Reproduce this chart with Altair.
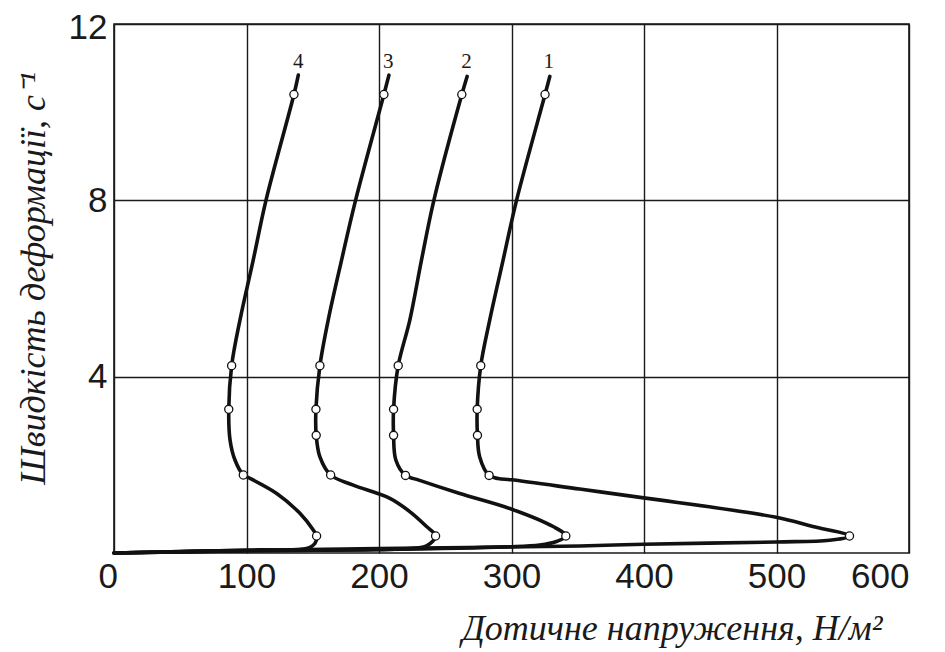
import altair as alt
import pandas as pd

# ---- data ----
# curve paths (origin -> baseline -> nose -> up to the top end)
c1_x = [0, 100, 200, 351.5, 399.8, 499.8, 540, 555.1, 527.4, 499.8, 399.8, 351.5, 300, 289.9, 283.1, 276.0, 274.3, 274.1, 276.8, 283.6, 293.7, 303.8, 325.3, 328.9]
c1_y = [0, 0.06, 0.10, 0.16, 0.20, 0.25, 0.29, 0.386, 0.60, 0.81, 1.25, 1.45, 1.66, 1.69, 1.76, 2.18, 2.67, 3.26, 4.25, 5.29, 6.65, 8.0, 10.40, 10.81]

c2_x = [0, 100, 200, 296, 321.3, 333.9, 341, 331.4, 298.7, 261, 228.4, 220, 212.7, 211, 211, 214.5, 223.3, 232.1, 241.4, 262.5, 266.5]
c2_y = [0, 0.05, 0.08, 0.14, 0.18, 0.26, 0.386, 0.60, 1.01, 1.35, 1.67, 1.76, 2.11, 2.67, 3.26, 4.25, 5.29, 6.65, 8.0, 10.40, 10.81]

c3_x = [0, 100, 190, 215, 235.9, 242.7, 235.9, 223.2, 208.2, 180.6, 163.5, 155.4, 152.6, 152.4, 155.4, 161.7, 171.8, 182.3, 203.7, 207.5]
c3_y = [0, 0.05, 0.07, 0.09, 0.16, 0.386, 0.60, 0.94, 1.24, 1.54, 1.77, 2.18, 2.67, 3.26, 4.25, 5.29, 6.65, 8.0, 10.40, 10.84]

c4_x = [0, 60, 110, 145.4, 151.7, 152.9, 150.4, 140.3, 122.8, 100.2, 97.6, 91.3, 87.6, 86.6, 88.8, 95.1, 105.1, 114.7, 135.8, 139.1]
c4_y = [0, 0.04, 0.07, 0.10, 0.22, 0.386, 0.52, 0.90, 1.35, 1.73, 1.77, 2.11, 2.56, 3.26, 4.25, 5.29, 6.65, 8.0, 10.40, 10.84]

# open-circle markers
m1_x = [555.1, 283.1, 274.3, 274.1, 276.8, 325.3]
m1_y = [0.386, 1.76, 2.67, 3.26, 4.25, 10.40]
m2_x = [341, 220, 211, 211, 214.5, 262.5]
m2_y = [0.386, 1.76, 2.67, 3.26, 4.25, 10.40]
m3_x = [242.7, 163.5, 152.6, 152.4, 155.4, 203.7]
m3_y = [0.386, 1.77, 2.67, 3.26, 4.25, 10.40]
m4_x = [152.9, 97.6, 86.6, 88.8, 135.8]
m4_y = [0.386, 1.77, 3.26, 4.25, 10.40]

# curve number labels
lab_text = ["1", "2", "3", "4"]
lab_x = [328.1, 266.0, 207.0, 139.1]
lab_y = [11.0, 11.0, 11.0, 11.0]

x_ticks = [0, 100, 200, 300, 400, 500, 600]
y_ticks = [4, 8, 12]

x_title = "Дотичне напруження, Н/м²"
y_title = "Швидкість деформації, с⁻¹"

# ---- tables ----
rows = []
for name, xs, ys in [("1", c1_x, c1_y), ("2", c2_x, c2_y), ("3", c3_x, c3_y), ("4", c4_x, c4_y)]:
    for i, (a, b) in enumerate(zip(xs, ys)):
        rows.append({"curve": name, "order": i, "x": a, "y": b})
lines_df = pd.DataFrame(rows)

mrows = []
for name, xs, ys in [("1", m1_x, m1_y), ("2", m2_x, m2_y), ("3", m3_x, m3_y), ("4", m4_x, m4_y)]:
    for a, b in zip(xs, ys):
        mrows.append({"curve": name, "x": a, "y": b})
markers_df = pd.DataFrame(mrows)

labels_df = pd.DataFrame({"t": lab_text, "x": lab_x, "y": lab_y})

xscale = alt.Scale(domain=[0, 600], nice=False, zero=False)
yscale = alt.Scale(domain=[0, 12], nice=False, zero=False)

xaxis = alt.Axis(
    values=x_ticks, grid=True, gridColor="#1a1a1a", gridWidth=1.4, gridOpacity=1,
    ticks=False, domain=False, labelFont="Liberation Sans", labelFontSize=35,
    labelColor="#1a1a1a", labelPadding=6,
    labelOffset={"condition": {"test": "datum.value == 0", "value": -16}, "value": 0},
    title=x_title, titleFont="Liberation Serif", titleFontStyle="italic",
    titleFontWeight="normal", titleFontSize=36, titleColor="#1a1a1a",
    titleAlign="right", titleAnchor="start", titleX=768, titleY=86,
    titleBaseline="alphabetic",
)
yaxis = alt.Axis(
    values=y_ticks, grid=True, gridColor="#1a1a1a", gridWidth=1.4, gridOpacity=1,
    ticks=False, domain=False, labelFont="Liberation Sans", labelFontSize=35,
    labelColor="#1a1a1a", labelPadding=7,
    labelOffset={"condition": {"test": "datum.value == 12", "value": 3}, "value": 0},
    title=y_title, titleFont="Liberation Serif", titleFontStyle="italic",
    titleFontWeight="normal", titleFontSize=36, titleColor="#1a1a1a",
    titleAngle=270, titleAlign="center", titleBaseline="alphabetic",
    titleX=-70, titleY=254,
)

base_x = alt.X("x:Q", scale=xscale, axis=xaxis)
base_y = alt.Y("y:Q", scale=yscale, axis=yaxis)

lines = alt.Chart(lines_df).mark_line(
    color="#111111", strokeWidth=3.6, interpolate="catmull-rom", strokeJoin="round", strokeCap="round"
).encode(x=base_x, y=base_y, detail="curve:N", order="order:Q")

points = alt.Chart(markers_df).mark_point(
    shape="circle", filled=True, fill="white", stroke="#111111", strokeWidth=1.3, size=66, opacity=1
).encode(x=alt.X("x:Q", scale=xscale), y=alt.Y("y:Q", scale=yscale))

labels = alt.Chart(labels_df).mark_text(
    font="Liberation Serif", fontSize=21, color="#1a1a1a", baseline="alphabetic", align="center"
).encode(x=alt.X("x:Q", scale=xscale), y=alt.Y("y:Q", scale=yscale), text="t:N")

chart = alt.layer(lines, points, labels).properties(
    width=795, height=529,
    autosize=alt.AutoSizeParams(type="none"),
    padding={"left": 106, "top": 16, "right": 20, "bottom": 100},
    background="white",
).configure_view(stroke="#1a1a1a", strokeWidth=1.6)

chart.save("out.html", embed_options={"renderer": "svg", "actions": False})
